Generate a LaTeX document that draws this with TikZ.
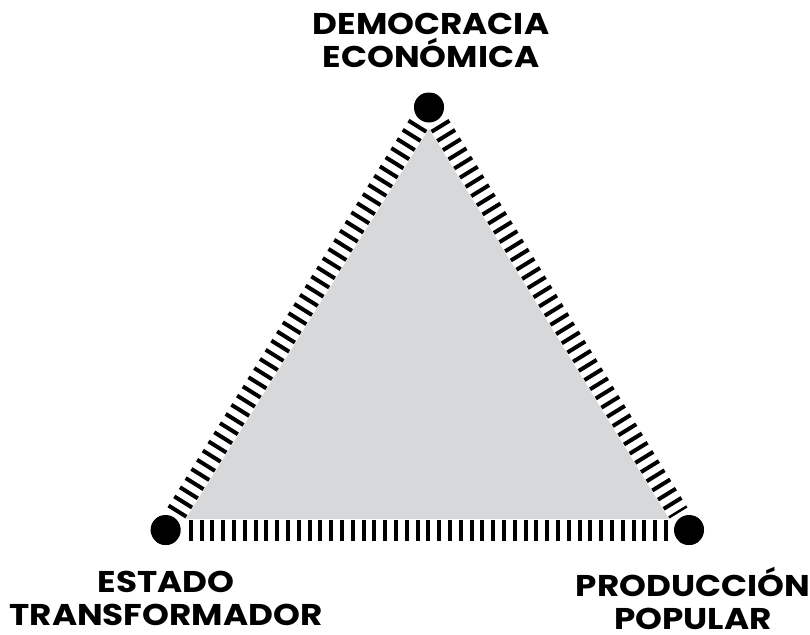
\documentclass[tikz,border=0pt]{standalone}
\usepackage{fontspec}
\setmainfont{Poppins}[FakeStretch=1.14]
\definecolor{trifill}{RGB}{214,216,218}
\begin{document}
\begin{tikzpicture}[x=1pt,y=-1pt,
  vertex/.style={circle,fill=black,inner sep=0pt,minimum size=30pt},
  lab/.style={align=center,font=\fontsize{30}{33}\selectfont\bfseries,inner sep=0pt},
  band/.style={white,line width=22pt},
  ticks/.style={black,line width=21pt,dash pattern=on 4pt off 6.8pt}]
\useasboundingbox (0,0) rectangle (810,634);
\node[vertex] (dem) at (429,107.5) {};
\node[vertex] (est) at (165.7,530) {};
\node[vertex] (pro) at (689,530) {};
\fill[trifill] (dem.center) -- (est.center) -- (pro.center) -- cycle;
\draw[band] (dem.center) -- (est.center) -- (pro.center) -- cycle;
\draw[ticks,shorten <=20pt,shorten >=20pt] (dem.center) -- (est.center);
\draw[ticks,shorten <=23pt,shorten >=20pt] (est.center) -- (pro.center);
\draw[ticks,shorten <=20pt,shorten >=20pt] (dem.center) -- (pro.center);
\node[vertex] at (dem.center) {};
\node[vertex] at (est.center) {};
\node[vertex] at (pro.center) {};
\node[lab] (tdem) at (431,40) {DEMOCRACIA\\ECONÓMICA};
\node[lab] (test) at (166,598.5) {ESTADO\\TRANSFORMADOR};
\node[lab] (tpro) at (693,598.5) {PRODUCCIÓN\\POPULAR};
\end{tikzpicture}
\end{document}
